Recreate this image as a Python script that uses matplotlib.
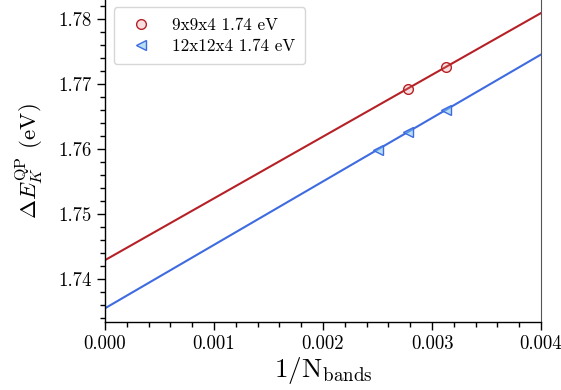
import numpy as np
import matplotlib
matplotlib.use("Agg")
import matplotlib.pyplot as plt
from matplotlib.ticker import MultipleLocator

plt.rcParams['font.family'] = 'serif'
plt.rcParams['font.serif'] = ['cmr10']
plt.rcParams['mathtext.fontset'] = 'cm'
plt.rcParams['axes.formatter.use_mathtext'] = True

# data
red_x = [1/360, 1/320]
red_y = [1.7693, 1.7726]
blue_x = [1/400, 1/360, 1/320]
blue_y = [1.7599, 1.7626, 1.7660]
red_label = '9x9x4 1.74 eV'
blue_label = '12x12x4 1.74 eV'
xfit = np.array([0.0, 0.004])

red_c = '#b52126'
blue_c = '#3f6be0'

fig = plt.figure(figsize=(5.61, 3.90), dpi=100)
ax = fig.add_axes([105/561, 68/390, 436/561, 322/390])

pr = np.polyfit(red_x, red_y, 1)
pb = np.polyfit(blue_x, blue_y, 1)
ax.plot(xfit, np.polyval(pr, xfit), color=red_c, lw=1.5, zorder=2)
ax.plot(xfit, np.polyval(pb, xfit), color=blue_c, lw=1.5, zorder=2)
ax.plot(red_x, red_y, 'o', ms=7, mfc=(0.9, 0.5, 0.5, 0.25), mec=red_c, mew=1.0,
        ls='none', label=red_label, zorder=3)
ax.plot(blue_x, blue_y, '<', ms=7, mfc=(0.45, 0.75, 0.9, 0.5), mec=blue_c, mew=1.0,
        ls='none', label=blue_label, zorder=3)

ax.set_xlim(0, 0.004)
ax.set_ylim(1.74 - 43/6500, 1.74 + 279/6500)
ax.xaxis.set_major_locator(MultipleLocator(0.001))
ax.xaxis.set_minor_locator(MultipleLocator(0.0002))
ax.yaxis.set_major_locator(MultipleLocator(0.01))
ax.yaxis.set_minor_locator(MultipleLocator(0.002))
ax.xaxis.set_major_formatter(matplotlib.ticker.FormatStrFormatter('%.3f'))
ax.yaxis.set_major_formatter(matplotlib.ticker.FormatStrFormatter('%.2f'))
ax.tick_params(which='major', direction='out', length=6, width=1, labelsize=13.5)
ax.tick_params(which='minor', direction='out', length=3.5, width=1)
ax.spines['top'].set_visible(False)
ax.spines['right'].set_color('#555555')
ax.spines['left'].set_linewidth(1)
ax.spines['bottom'].set_linewidth(1)

ax.set_xlabel(r'$1/\mathrm{N}_{\mathrm{bands}}$', fontsize=19.5, labelpad=1)
ax.set_ylabel(r'$\Delta E_K^{\mathrm{QP}}$ (eV)', fontsize=16.5, labelpad=10)

leg = ax.legend(loc='upper left', fontsize=12.3, frameon=True, fancybox=True,
                bbox_to_anchor=(0.0206, 0.978), borderaxespad=0,
                borderpad=0.6, handlelength=2.0, handletextpad=0.8,
                labelspacing=0.35)
leg.get_frame().set_edgecolor('#cccccc')

fig.savefig('out.png', dpi=100)
